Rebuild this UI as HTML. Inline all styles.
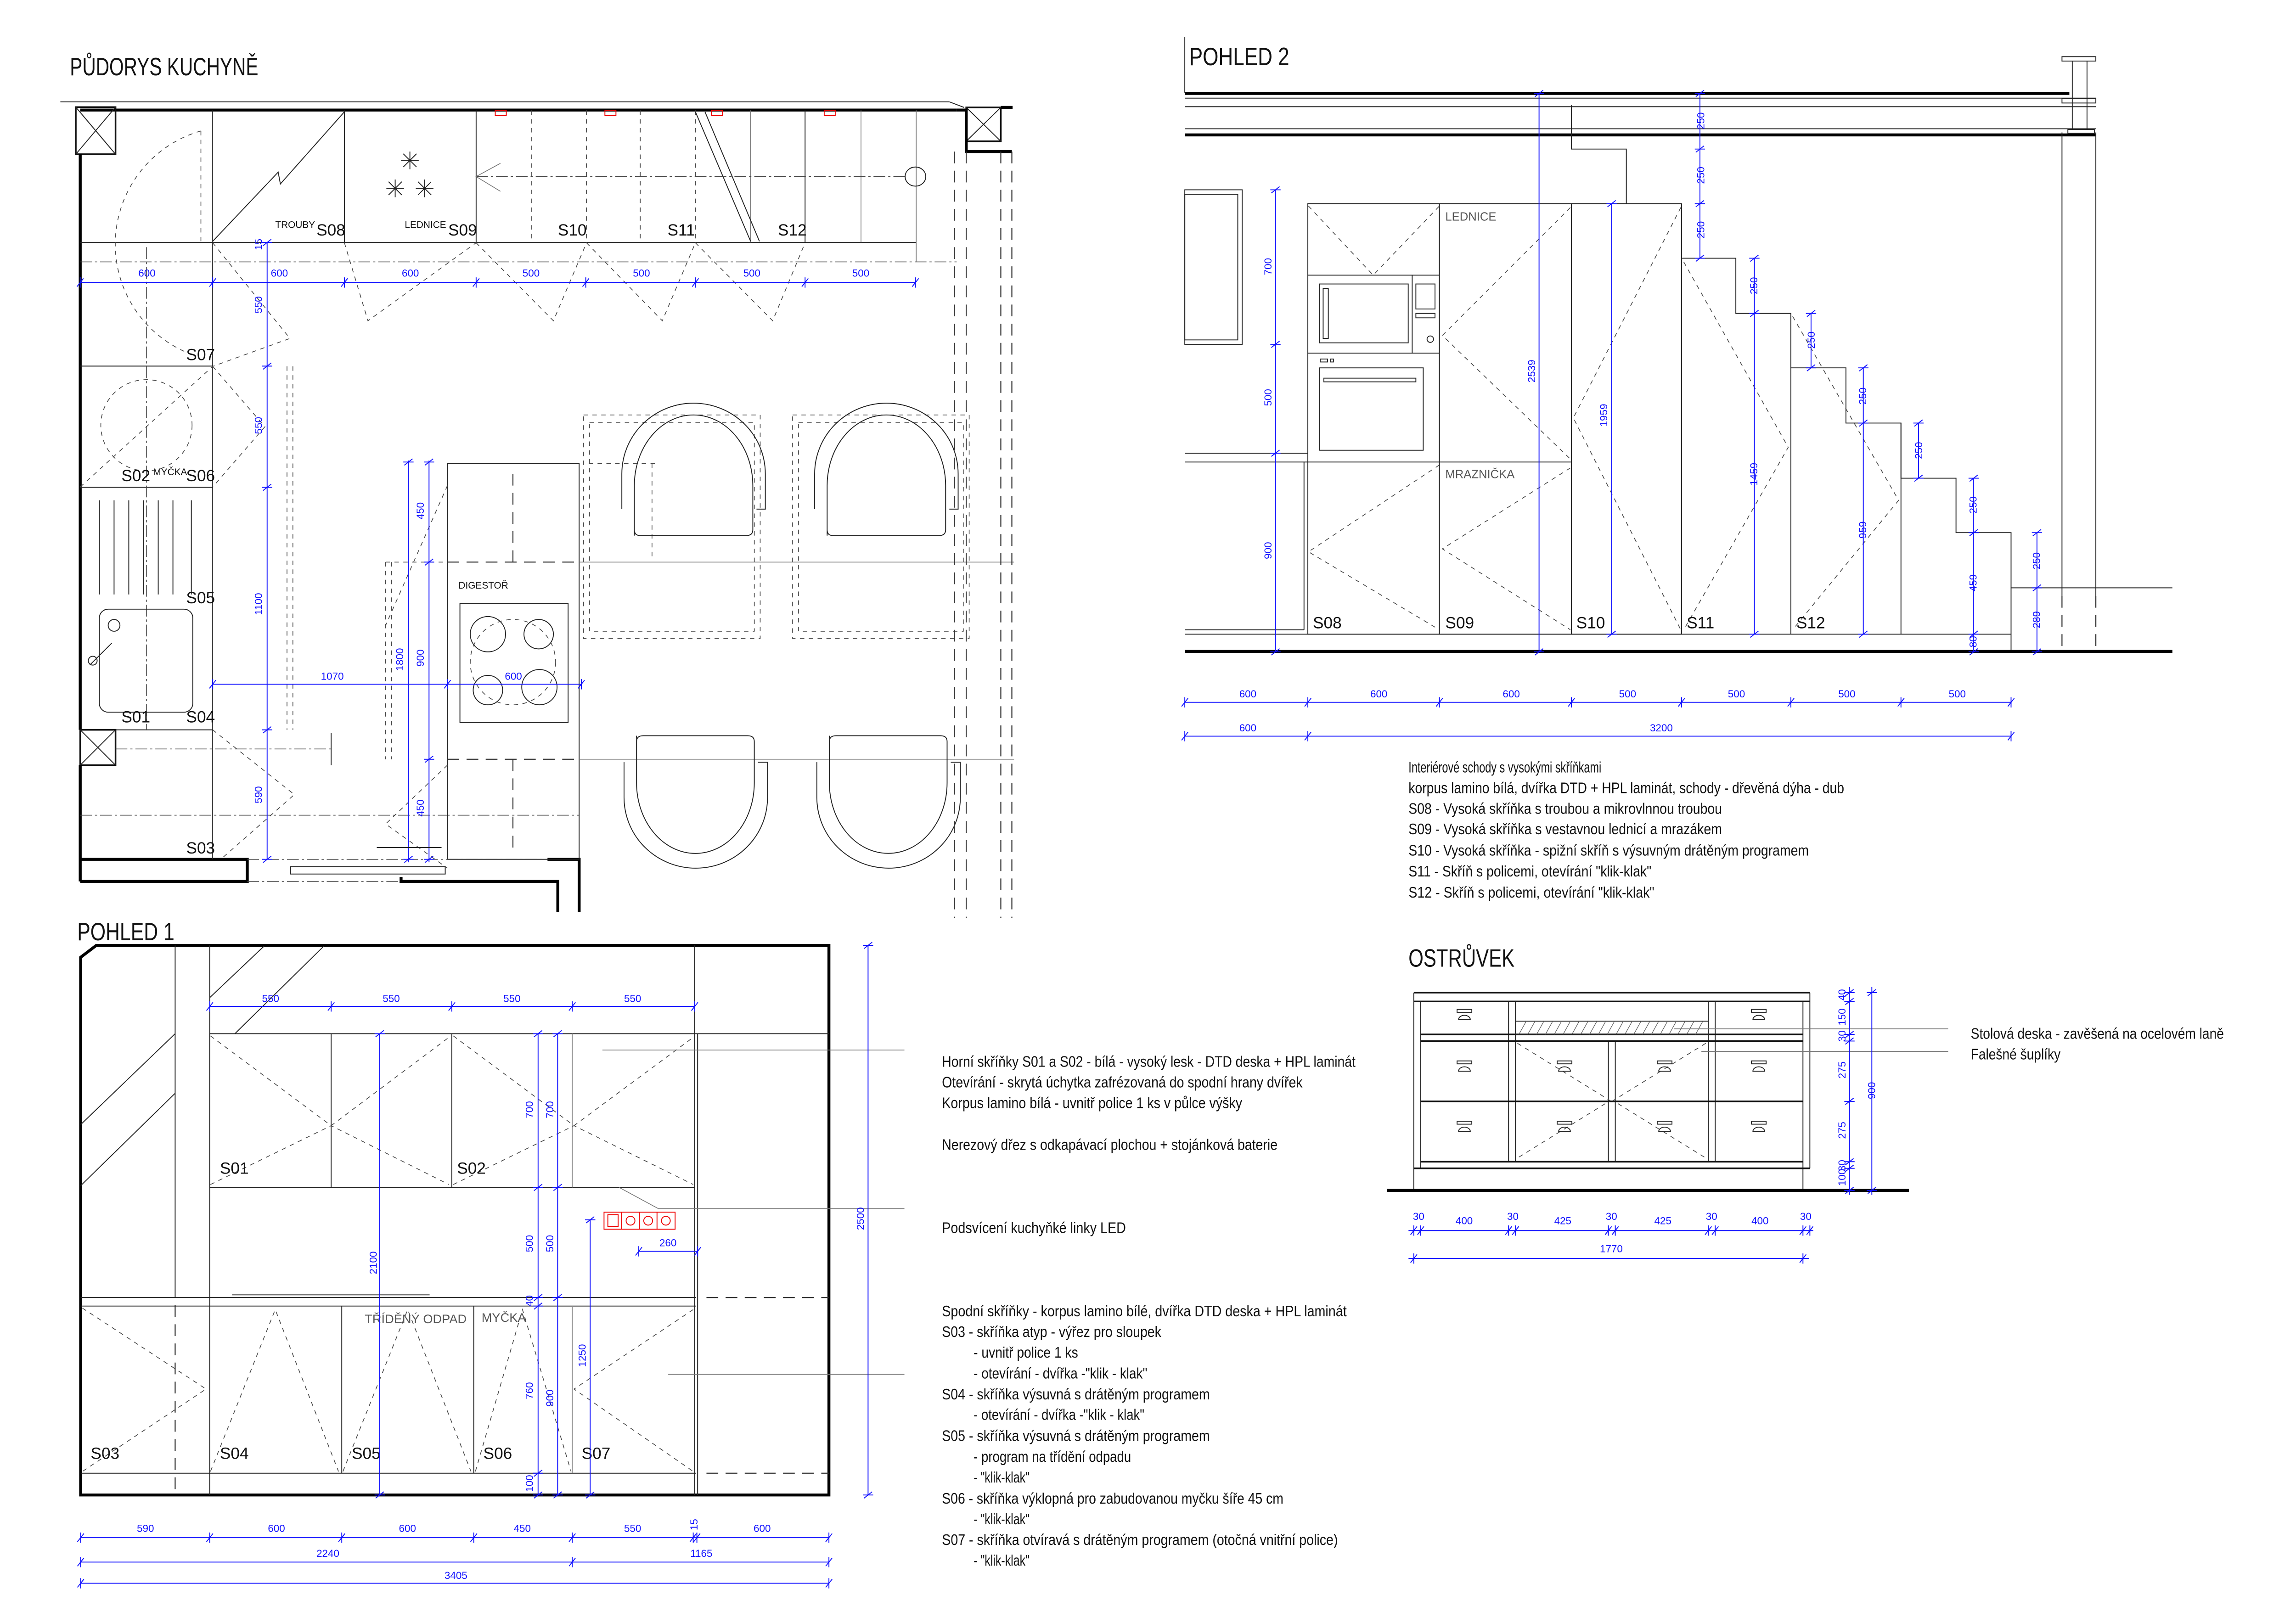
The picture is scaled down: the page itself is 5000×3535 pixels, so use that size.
<!DOCTYPE html>
<html><head><meta charset="utf-8"><style>
html,body{margin:0;padding:0;background:#fff}
svg{display:block}
text{font-family:"Liberation Sans Narrow","Liberation Sans",sans-serif;fill:#111}
.k{stroke:#222;stroke-width:.6;fill:none}
.k2{stroke:#111;stroke-width:1.1;fill:none}
.k3{stroke:#000;stroke-width:2;fill:none}
.g{stroke:#777;stroke-width:.5;fill:none}
.d{stroke:#444;stroke-width:.5;fill:none;stroke-dasharray:3 3}
.dd{stroke:#444;stroke-width:.5;fill:none;stroke-dasharray:8 2 1.5 2}
.dl{stroke:#333;stroke-width:.7;fill:none;stroke-dasharray:8 5}
.b{stroke:#1010ff;stroke-width:.6;fill:none}
.bt{fill:#1010ff;font-size:7px}
.s{font-size:11px}
.sm{font-size:6.5px}
.ti{font-size:17px}
.tx{font-size:10.5px}
.r{stroke:#e00;stroke-width:.6;fill:none}
</style></head><body>
<svg width="5000" height="3535" viewBox="0 0 1560 1103" preserveAspectRatio="none" xmlns="http://www.w3.org/2000/svg">
<defs>
<g id="h"><line x1="-2.2" y1="2.8" x2="2.2" y2="-2.8" stroke="#1010ff" stroke-width=".6"/><line x1="0" y1="-3.5" x2="0" y2="3.5" stroke="#1010ff" stroke-width=".6"/></g>
<g id="v"><line x1="-2.8" y1="2.2" x2="2.8" y2="-2.2" stroke="#1010ff" stroke-width=".6"/><line x1="-3.5" y1="0" x2="3.5" y2="0" stroke="#1010ff" stroke-width=".6"/></g>
<g id="X"><line x1="0" y1="0" x2="1" y2="1"/><line x1="1" y1="0" x2="0" y2="1"/></g>
</defs>

<!-- ================= PŮDORYS ================= -->
<text x="47.5" y="51.2" class="ti" textLength="128" lengthAdjust="spacingAndGlyphs">PŮDORYS KUCHYNĚ</text>
<line class="k" x1="41" y1="69.2" x2="645" y2="69.2"/>
<line class="k" x1="645" y1="69.2" x2="655" y2="73"/>
<line class="k3" x1="54.5" y1="74.8" x2="650" y2="74.8"/>
<rect class="k2" x="51.5" y="72.8" width="27" height="32"/>
<path class="k" d="M51.5 72.8 L78.5 104.8 M78.5 72.8 L51.5 104.8"/>
<rect class="k2" x="656.5" y="73" width="23.5" height="23"/>
<path class="k" d="M656.5 73 L680 96 M680 73 L656.5 96"/>
<path class="k3" d="M650 74.8 L656.5 74.8 L656.5 103 L687.5 103 M680 73 L688 73"/>
<line class="k3" x1="54.5" y1="104.8" x2="54.5" y2="496"/>
<rect class="k2" x="54.5" y="496" width="24" height="24"/>
<path class="k" d="M54.5 496 L78.5 520 M78.5 496 L54.5 520"/>
<line class="k3" x1="54.5" y1="520" x2="54.5" y2="599"/>
<path class="k3" d="M54.5 584 L168 584 L168 599 L54.5 599"/>
<path class="k3" d="M272.5 596 L272.5 599 L379 599 L379 620 M372 584 L393.5 584 L393.5 620"/>
<rect class="k" x="197.5" y="589" width="105" height="5"/>
<line class="dd" x1="168" y1="584" x2="372" y2="584"/>
<line class="dd" x1="168" y1="599" x2="272.5" y2="599"/>
<!-- cabinets top -->
<line class="k" x1="54.5" y1="164.8" x2="622.5" y2="164.8"/>
<line class="dd" x1="54.5" y1="178" x2="650" y2="178"/>
<line class="k" x1="144.5" y1="75" x2="144.5" y2="584"/>
<line class="k" x1="234" y1="75" x2="234" y2="164.8"/>
<line class="k" x1="323.5" y1="75" x2="323.5" y2="164.8"/>
<line class="d" x1="361" y1="75" x2="361" y2="164.8"/>
<line class="d" x1="398.5" y1="75" x2="398.5" y2="164.8"/>
<line class="d" x1="435" y1="75" x2="435" y2="164.8"/>
<line class="d" x1="472.5" y1="75" x2="472.5" y2="164.8"/>
<line class="g" x1="510" y1="75" x2="510" y2="164.8"/>
<line class="k" x1="547" y1="75" x2="547" y2="164.8"/>
<line class="g" x1="585" y1="75" x2="585" y2="164.8"/>
<line class="g" x1="622.5" y1="75" x2="622.5" y2="178"/>
<rect class="r" x="336.5" y="75" width="7.5" height="3.5"/>
<rect class="r" x="411" y="75" width="7.5" height="3.5"/>
<rect class="r" x="483.5" y="75" width="7.5" height="3.5"/>
<rect class="r" x="560" y="75" width="7.5" height="3.5"/>
<polyline class="k" points="144.5,164 189,117 190.5,125 234,76"/>
<line class="k" x1="472.5" y1="76" x2="510" y2="164"/>
<line class="k" x1="479" y1="76" x2="516" y2="164"/>
<line class="dd" x1="323.5" y1="120" x2="615" y2="120"/>
<path class="g" d="M340 111 L323.5 120 L340 130"/>
<ellipse class="k" cx="622" cy="120" rx="7" ry="6.5"/>
<g class="k">
<path d="M278.5 103v12M272.5 109h12M274 104.5l9 9M283 104.5l-9 9"/>
<path d="M268.5 122v12M262.5 128h12M264 123.5l9 9M273 123.5l-9 9"/>
<path d="M288.5 122v12M282.5 128h12M284 123.5l9 9M293 123.5l-9 9"/>
</g>
<text x="187" y="155" class="sm">TROUBY</text>
<text x="215" y="160" class="s">S08</text>
<text x="275" y="155" class="sm">LEDNICE</text>
<text x="304.5" y="160" class="s">S09</text>
<text x="379" y="160" class="s">S10</text>
<text x="453.5" y="160" class="s">S11</text>
<text x="528.5" y="160" class="s">S12</text>
<!-- dashed V's -->
<polyline class="d" points="234,165 250,218 323.5,165"/>
<polyline class="d" points="323.5,165 376,218 398.5,165"/>
<polyline class="d" points="398.5,165 450,218 472.5,165"/>
<polyline class="d" points="472.5,165 525,218 547,165"/>
<polyline class="d" points="144.5,165 197,230 144.5,249"/>
<polyline class="d" points="144.5,249 180,290 144.5,331"/>
<polyline class="d" points="144.5,496 200,540 150,584"/>
<!-- left column -->
<line class="k" x1="54.5" y1="248.8" x2="144.5" y2="248.8"/>
<line class="k" x1="54.5" y1="331.2" x2="144.5" y2="331.2"/>
<line class="k" x1="78.5" y1="496" x2="144.5" y2="496"/>
<line class="dd" x1="54.5" y1="554" x2="393.5" y2="554"/>
<line class="dd" x1="78.5" y1="509" x2="225" y2="509"/>
<line class="k" x1="225" y1="498" x2="225" y2="520"/>
<line class="dd" x1="99.5" y1="168" x2="99.5" y2="496"/>
<line class="d" x1="136.5" y1="89" x2="136.5" y2="165"/>
<path class="d" d="M136.5 89 A 80 80 0 0 0 128 240"/>
<circle class="d" cx="99.5" cy="289" r="31"/>
<line class="d" x1="54.5" y1="331" x2="144.5" y2="249"/>
<g class="k"><path d="M67.5 340v64M77.5 340v64M87.5 340v64M97.5 340v64M107.5 340v64M117.5 340v64M130 340v64"/></g>
<rect class="k" x="67.5" y="414" width="63.5" height="70" rx="6"/>
<circle class="k" cx="77.5" cy="425" r="4"/>
<circle class="k" cx="63" cy="449" r="3"/>
<line class="k" x1="61" y1="452" x2="76" y2="437"/>
<text x="126.5" y="244.8" class="s">S07</text>
<text x="82.5" y="327" class="s">S02</text>
<text x="104" y="323" class="sm">MYČKA</text>
<text x="126.5" y="327" class="s">S06</text>
<text x="126.5" y="410" class="s">S05</text>
<text x="82.5" y="491" class="s">S01</text>
<text x="126.5" y="491" class="s">S04</text>
<text x="126.5" y="580" class="s">S03</text>
<line class="d" x1="195" y1="249" x2="195" y2="496"/>
<line class="d" x1="199" y1="249" x2="199" y2="496"/>
<!-- plan dims -->
<line class="b" x1="54.5" y1="192" x2="622" y2="192"/>
<use href="#h" x="54.5" y="192"/><use href="#h" x="144.5" y="192"/><use href="#h" x="234" y="192"/><use href="#h" x="323.5" y="192"/><use href="#h" x="398" y="192"/><use href="#h" x="472.5" y="192"/><use href="#h" x="547" y="192"/><use href="#h" x="622" y="192"/>
<text class="bt" x="94" y="188">600</text><text class="bt" x="184" y="188">600</text><text class="bt" x="273" y="188">600</text><text class="bt" x="355" y="188">500</text><text class="bt" x="430" y="188">500</text><text class="bt" x="505" y="188">500</text><text class="bt" x="579" y="188">500</text>
<line class="b" x1="181.5" y1="164.8" x2="181.5" y2="584"/>
<use href="#v" x="181.5" y="164.8"/><use href="#v" x="181.5" y="248.8"/><use href="#v" x="181.5" y="331.2"/><use href="#v" x="181.5" y="496"/><use href="#v" x="181.5" y="584"/>
<text class="bt" transform="translate(178,213) rotate(-90)">550</text>
<text class="bt" transform="translate(178,295) rotate(-90)">550</text>
<text class="bt" transform="translate(178,418) rotate(-90)">1100</text>
<text class="bt" transform="translate(178,546) rotate(-90)">590</text>
<text class="bt" transform="translate(178,170) rotate(-90)">15</text>
<!-- island -->
<rect class="k" x="304" y="315" width="89.5" height="269"/>
<line class="dl" x1="348.5" y1="322" x2="348.5" y2="382"/>
<line class="dl" x1="348.5" y1="516" x2="348.5" y2="576"/>
<line class="dl" x1="304" y1="382" x2="393.5" y2="382"/>
<line class="dl" x1="304" y1="516" x2="393.5" y2="516"/>
<line class="g" x1="393.5" y1="382" x2="689" y2="382"/>
<line class="g" x1="393.5" y1="516" x2="689" y2="516"/>
<line class="d" x1="262" y1="382" x2="304" y2="382"/>
<line class="d" x1="262" y1="382" x2="262" y2="516"/>
<line class="d" x1="266" y1="382" x2="266" y2="516"/>
<polyline class="d" points="304,330 262,425"/>
<polyline class="d" points="304,520 262,560 304,590"/>
<text x="311.5" y="400" class="sm">DIGESTOŘ</text>
<rect class="k" x="312.5" y="410" width="73.5" height="81"/>
<circle class="k" cx="331.5" cy="431" r="12"/><circle class="k" cx="366" cy="431" r="10"/>
<circle class="k" cx="331.5" cy="469" r="10"/><circle class="k" cx="366.5" cy="467" r="12"/>
<circle class="d" cx="348.5" cy="450" r="29"/>
<line class="b" x1="277.5" y1="313" x2="277.5" y2="586"/>
<line class="b" x1="291.5" y1="313" x2="291.5" y2="586"/>
<use href="#v" x="277.5" y="314"/><use href="#v" x="277.5" y="584"/>
<use href="#v" x="291.5" y="314"/><use href="#v" x="291.5" y="382"/><use href="#v" x="291.5" y="516"/><use href="#v" x="291.5" y="584"/>
<text class="bt" transform="translate(274,456) rotate(-90)">1800</text>
<text class="bt" transform="translate(288,453) rotate(-90)">900</text>
<text class="bt" transform="translate(288,353) rotate(-90)">450</text>
<text class="bt" transform="translate(288,555) rotate(-90)">450</text>
<line class="b" x1="144.5" y1="465" x2="395" y2="465"/>
<use href="#h" x="144.5" y="465"/><use href="#h" x="304" y="465"/><use href="#h" x="395" y="465"/>
<text class="bt" x="218" y="462">1070</text><text class="bt" x="343" y="462">600</text>
<line class="k" x1="256" y1="576" x2="300" y2="576"/>
<!-- tables -->
<rect class="d" x="396.5" y="282" width="120" height="152"/>
<rect class="d" x="400.5" y="287" width="112" height="142"/>
<rect class="d" x="538.5" y="282" width="120" height="152"/>
<rect class="d" x="542.5" y="287" width="112" height="142"/>
<line class="d" x1="400" y1="315" x2="445" y2="315"/><line class="d" x1="443" y1="315" x2="443" y2="380"/>
<!-- chairs -->
<g class="k">
<path d="M422.5 346 L422.5 322 A48.75 48 0 0 1 520 322 L520 346 L514 346"/>
<path d="M431 364 L431 330 A40.25 48 0 0 1 511.5 330 L511.5 360 Q511.5 364 507 364 L435 364 Q431 364 431 360"/>
<path d="M553.5 346 L553.5 322 A48.75 48 0 0 1 651 322 L651 346 L645 346"/>
<path d="M562 364 L562 330 A40.25 48 0 0 1 642.5 330 L642.5 360 Q642.5 364 638 364 L566 364 Q562 364 562 360"/>
<path d="M424 518 L424 542 A48.75 48 0 0 0 521.5 542 L521.5 518 L515 518"/>
<path d="M432.5 500 L432.5 532 A40 48 0 0 0 512.5 532 L512.5 504 Q512.5 500 508 500 L437 500 Q432.5 500 432.5 504"/>
<path d="M555 518 L555 542 A48.75 48 0 0 0 652.5 542 L652.5 518 L646 518"/>
<path d="M563.5 500 L563.5 532 A40 48 0 0 0 643.5 532 L643.5 504 Q643.5 500 639 500 L568 500 Q563.5 500 563.5 504"/>
</g>
<g class="dl"><line x1="648.5" y1="103" x2="648.5" y2="624"/><line x1="656.5" y1="103" x2="656.5" y2="624"/><line x1="680" y1="103" x2="680" y2="624"/><line x1="687.5" y1="103" x2="687.5" y2="624"/></g>

<!-- ================= POHLED 2 ================= -->
<line class="k" x1="805" y1="25" x2="805" y2="63"/>
<text x="808" y="44.3" class="ti" textLength="68" lengthAdjust="spacingAndGlyphs">POHLED 2</text>
<line class="k3" x1="805" y1="63.5" x2="1406" y2="63.5"/>
<line class="k" x1="805" y1="66.7" x2="1424" y2="66.7"/>
<line class="k" x1="805" y1="72.5" x2="1424" y2="72.5"/>
<line class="k" x1="805" y1="87.5" x2="1424" y2="87.5"/>
<line class="k3" x1="805" y1="91.7" x2="1424" y2="91.7"/>
<g class="k"><rect x="1401" y="38.5" width="23" height="3"/><rect x="1401" y="67" width="23" height="3"/><rect x="1405" y="88" width="18" height="2.5"/><line x1="1408" y1="41.5" x2="1408" y2="88"/><line x1="1418" y1="41.5" x2="1418" y2="88"/></g>
<line class="k" x1="1401" y1="90" x2="1401" y2="405"/>
<line class="k" x1="1424" y1="90" x2="1424" y2="405"/>
<line class="dl" x1="1401" y1="405" x2="1401" y2="443"/>
<line class="dl" x1="1424" y1="405" x2="1424" y2="443"/>
<rect class="k" x="805" y="129" width="39" height="105"/>
<rect class="k" x="805" y="132" width="36" height="99"/>
<!-- S08 -->
<rect class="k" x="888.6" y="138.4" width="89.4" height="292.6"/>
<line class="k" x1="888.6" y1="187" x2="978" y2="187"/>
<line class="k" x1="888.6" y1="240" x2="978" y2="240"/>
<line class="k" x1="888.6" y1="314" x2="978" y2="314"/>
<rect class="k" x="896.5" y="193" width="60.3" height="40"/>
<rect class="k" x="899" y="196" width="3.5" height="34"/>
<line class="k" x1="959.5" y1="187" x2="959.5" y2="240"/>
<rect class="k" x="962" y="193" width="13" height="17"/>
<rect class="k" x="962" y="213" width="13" height="3"/>
<circle class="k" cx="971.8" cy="230.5" r="2.2"/>
<rect class="k" x="896.5" y="250" width="70.5" height="56"/>
<rect class="k" x="899.5" y="257" width="62.5" height="2.5"/>
<rect class="k" x="897" y="244" width="5" height="2"/><rect class="k" x="904" y="244" width="2" height="2"/>
<polyline class="d" points="889,140 933,187 978,140"/>
<polyline class="d" points="978,316 889,375 978,428"/>
<!-- S09 -->
<rect class="k" x="978" y="138.4" width="89.7" height="292.6"/>
<line class="k" x1="978" y1="314" x2="1067.7" y2="314"/>
<polyline class="d" points="1067,141 980,228 1067,312"/>
<polyline class="d" points="1067,318 980,373 1067,428"/>
<text x="982" y="150" class="sm" style="font-size:8px;fill:#555">LEDNICE</text>
<text x="982" y="325" class="sm" style="font-size:8px;fill:#555">MRAZNIČKA</text>
<!-- S10 -->
<rect class="k" x="1067.7" y="138.4" width="74.8" height="292.6"/>
<path class="k" d="M1067.7 71.5 L1067.7 101.3 L1105 101.3 L1105 138.4"/>
<polyline class="d" points="1142,141 1069,284 1142,428"/>
<!-- stairs -->
<path class="k" d="M1142.5 138.4 L1142.5 175.5 L1179.4 175.5 L1179.4 213 L1216.8 213 L1216.8 250 L1254.2 250 L1254.2 287.5 L1291.6 287.5 L1291.6 325 L1329 325 L1329 362 L1366.4 362 L1366.4 443"/>
<line class="k" x1="1142.5" y1="175" x2="1142.5" y2="431"/>
<line class="k" x1="1216.8" y1="213" x2="1216.8" y2="431"/>
<line class="k" x1="1291.6" y1="287.5" x2="1291.6" y2="431"/>
<line class="k" x1="1366.4" y1="399.5" x2="1476" y2="399.5"/>
<polyline class="d" points="1144,178 1215,304 1144,428"/>
<polyline class="d" points="1218,215 1290,340 1218,428"/>
<line class="k" x1="805" y1="431" x2="1366.4" y2="431"/>
<line class="k" x1="805" y1="308" x2="888.6" y2="308"/>
<line class="k" x1="805" y1="314" x2="888.6" y2="314"/>
<line class="k" x1="886" y1="314" x2="886" y2="428"/>
<line class="k" x1="805" y1="428" x2="886" y2="428"/>
<line class="k3" x1="805" y1="442.7" x2="1476" y2="442.7"/>
<text x="892" y="427" class="s">S08</text>
<text x="982" y="427" class="s">S09</text>
<text x="1071" y="427" class="s">S10</text>
<text x="1146" y="427" class="s">S11</text>
<text x="1220.5" y="427" class="s">S12</text>
<!-- P2 dims -->
<line class="b" x1="866.6" y1="129" x2="866.6" y2="443"/>
<use href="#v" x="866.6" y="129"/><use href="#v" x="866.6" y="234"/><use href="#v" x="866.6" y="308"/><use href="#v" x="866.6" y="443"/>
<text class="bt" transform="translate(864,187) rotate(-90)">700</text>
<text class="bt" transform="translate(864,276) rotate(-90)">500</text>
<text class="bt" transform="translate(864,380) rotate(-90)">900</text>
<line class="b" x1="1045.7" y1="63.5" x2="1045.7" y2="443"/>
<use href="#v" x="1045.7" y="63.5"/><use href="#v" x="1045.7" y="443"/>
<text class="bt" transform="translate(1043,260) rotate(-90)">2539</text>
<line class="b" x1="1095" y1="138.4" x2="1095" y2="431"/>
<use href="#v" x="1095" y="138.4"/><use href="#v" x="1095" y="431"/>
<text class="bt" transform="translate(1092,290) rotate(-90)">1959</text>
<line class="b" x1="1155" y1="63.5" x2="1155" y2="175.5"/>
<use href="#v" x="1155" y="63.5"/><use href="#v" x="1155" y="101.3"/><use href="#v" x="1155" y="138.4"/><use href="#v" x="1155" y="175.5"/>
<text class="bt" transform="translate(1158,88) rotate(-90)">250</text>
<text class="bt" transform="translate(1158,125) rotate(-90)">250</text>
<text class="bt" transform="translate(1158,162) rotate(-90)">250</text>
<line class="b" x1="1192" y1="175.5" x2="1192" y2="431"/>
<use href="#v" x="1192" y="175.5"/><use href="#v" x="1192" y="213"/><use href="#v" x="1192" y="431"/>
<text class="bt" transform="translate(1194,200) rotate(-90)">250</text>
<text class="bt" transform="translate(1194,330) rotate(-90)">1459</text>
<line class="b" x1="1230.5" y1="213" x2="1230.5" y2="250"/>
<use href="#v" x="1230.5" y="213"/><use href="#v" x="1230.5" y="250"/>
<text class="bt" transform="translate(1233,237) rotate(-90)">250</text>
<line class="b" x1="1266" y1="250" x2="1266" y2="431"/>
<use href="#v" x="1266" y="250"/><use href="#v" x="1266" y="287.5"/><use href="#v" x="1266" y="431"/>
<text class="bt" transform="translate(1268,275) rotate(-90)">250</text>
<text class="bt" transform="translate(1268,366) rotate(-90)">959</text>
<line class="b" x1="1303.5" y1="287.5" x2="1303.5" y2="325"/>
<use href="#v" x="1303.5" y="287.5"/><use href="#v" x="1303.5" y="325"/>
<text class="bt" transform="translate(1306,312) rotate(-90)">250</text>
<line class="b" x1="1341" y1="325" x2="1341" y2="443"/>
<use href="#v" x="1341" y="325"/><use href="#v" x="1341" y="362"/><use href="#v" x="1341" y="431"/><use href="#v" x="1341" y="443"/>
<text class="bt" transform="translate(1343,349) rotate(-90)">250</text>
<text class="bt" transform="translate(1343,402) rotate(-90)">459</text>
<text class="bt" transform="translate(1343,440) rotate(-90)">80</text>
<line class="b" x1="1384" y1="362" x2="1384" y2="443"/>
<use href="#v" x="1384" y="362"/><use href="#v" x="1384" y="399.5"/><use href="#v" x="1384" y="443"/>
<text class="bt" transform="translate(1386,387) rotate(-90)">250</text>
<text class="bt" transform="translate(1386,427) rotate(-90)">289</text>
<line class="b" x1="805" y1="477.3" x2="1366.4" y2="477.3"/>
<use href="#h" x="805" y="477.3"/><use href="#h" x="888.6" y="477.3"/><use href="#h" x="978" y="477.3"/><use href="#h" x="1067.7" y="477.3"/><use href="#h" x="1142.5" y="477.3"/><use href="#h" x="1216.8" y="477.3"/><use href="#h" x="1291.6" y="477.3"/><use href="#h" x="1366.4" y="477.3"/>
<text class="bt" x="842" y="474">600</text><text class="bt" x="931" y="474">600</text><text class="bt" x="1021" y="474">600</text><text class="bt" x="1100" y="474">500</text><text class="bt" x="1174" y="474">500</text><text class="bt" x="1249" y="474">500</text><text class="bt" x="1324" y="474">500</text>
<line class="b" x1="805" y1="500.3" x2="1366.4" y2="500.3"/>
<use href="#h" x="805" y="500.3"/><use href="#h" x="888.6" y="500.3"/><use href="#h" x="1366.4" y="500.3"/>
<text class="bt" x="842" y="497">600</text><text class="bt" x="1121" y="497">3200</text>
<g class="tx">
<text x="957" y="525" textLength="131" lengthAdjust="spacingAndGlyphs">Interiérové schody s vysokými skříňkami</text>
<text x="957" y="539" textLength="296" lengthAdjust="spacingAndGlyphs">korpus lamino bílá, dvířka DTD + HPL laminát, schody - dřevěná dýha - dub</text>
<text x="957" y="553" textLength="213" lengthAdjust="spacingAndGlyphs">S08 - Vysoká skříňka s troubou a mikrovlnnou troubou</text>
<text x="957" y="567" textLength="213" lengthAdjust="spacingAndGlyphs">S09 - Vysoká skříňka s vestavnou lednicí a mrazákem</text>
<text x="957" y="581.5" textLength="272" lengthAdjust="spacingAndGlyphs">S10 - Vysoká skříňka - spižní skříň s výsuvným drátěným programem</text>
<text x="957" y="595.7" textLength="165" lengthAdjust="spacingAndGlyphs">S11 - Skříň s policemi, otevírání "klik-klak"</text>
<text x="957" y="610" textLength="167" lengthAdjust="spacingAndGlyphs">S12 - Skříň s policemi, otevírání "klik-klak"</text>
</g>

<!-- ================= POHLED 1 ================= -->
<text x="52.5" y="639" class="ti" textLength="66" lengthAdjust="spacingAndGlyphs">POHLED 1</text>
<path class="k3" d="M54.8 650.6 L65.4 642.5 L563.2 642.5 L563.2 1016 L54.8 1016 Z"/>
<line class="k" x1="119" y1="642.5" x2="119" y2="881.8"/>
<line class="dl" x1="119" y1="887" x2="119" y2="1016"/>
<line class="k" x1="142.5" y1="642.5" x2="142.5" y2="1016"/>
<g class="k"><line x1="142.5" y1="678" x2="179.4" y2="643"/><line x1="159.6" y1="702.5" x2="220" y2="643"/><line x1="54.8" y1="764.3" x2="119" y2="702.5"/><line x1="54.8" y1="805.8" x2="119" y2="743"/></g>
<rect class="k" x="142.5" y="702.5" width="329.5" height="104.5"/>
<g class="k"><line x1="225" y1="702.5" x2="225" y2="807"/><line x1="307" y1="702.5" x2="307" y2="807"/><line x1="388.8" y1="702.5" x2="388.8" y2="807" stroke="#888"/></g>
<line class="k" x1="472" y1="642.5" x2="472" y2="1016"/>
<line class="k" x1="474" y1="702.5" x2="474" y2="1016" stroke="#999"/>
<line class="k" x1="472" y1="702.5" x2="563.2" y2="702.5"/>
<polyline class="d" points="143,704 225,765 305,705"/>
<polyline class="d" points="143,805 225,765 305,805"/>
<polyline class="d" points="308,704 390,765 471,705"/>
<polyline class="d" points="308,805 390,765 471,805"/>
<text x="149.4" y="797.7" class="s">S01</text>
<text x="310.5" y="797.7" class="s">S02</text>
<line class="k" x1="54.8" y1="881.8" x2="473" y2="881.8"/>
<line class="k" x1="54.8" y1="887.6" x2="473" y2="887.6"/>
<line class="k" x1="157.7" y1="880" x2="291.9" y2="880"/>
<line class="k" x1="54.8" y1="1001.2" x2="473" y2="1001.2"/>
<g class="k"><line x1="232.2" y1="887.6" x2="232.2" y2="1001.2"/><line x1="321.9" y1="887.6" x2="321.9" y2="1001.2"/><line x1="388.8" y1="887.6" x2="388.8" y2="1001.2" stroke="#888"/></g>
<line class="dl" x1="480" y1="881.8" x2="563" y2="881.8"/>
<line class="dl" x1="480" y1="1001.2" x2="563" y2="1001.2"/>
<polyline class="d" points="56,889 140,944 56,1000"/>
<polyline class="d" points="143,1000 187,890 230,1000"/>
<polyline class="d" points="233,1000 277,890 320,1000"/>
<polyline class="d" points="323,1000 355,890 388,1000"/>
<polyline class="d" points="471,890 390,944 471,1000"/>
<text x="247.8" y="899.2" style="font-size:8.5px;fill:#555">TŘÍDĚNÝ ODPAD</text>
<text x="327.2" y="898.3" style="font-size:8.5px;fill:#555">MYČKA</text>
<text x="61.6" y="991.4" class="s">S03</text>
<text x="149.4" y="991.4" class="s">S04</text>
<text x="239" y="991.4" class="s">S05</text>
<text x="328.4" y="991.4" class="s">S06</text>
<text x="395.2" y="991.4" class="s">S07</text>
<line class="g" x1="409.3" y1="713.6" x2="614.5" y2="713.6"/>
<path class="g" d="M420.7 807 L447.3 821.4 L614.5 821.4"/>
<line class="g" x1="454" y1="934" x2="614.5" y2="934"/>
<g class="r"><rect x="410.4" y="823.8" width="48.3" height="11.6"/><line x1="422.4" y1="823.8" x2="422.4" y2="835.4"/><line x1="434.4" y1="823.8" x2="434.4" y2="835.4"/><line x1="446.4" y1="823.8" x2="446.4" y2="835.4"/><rect x="413" y="825.5" width="7" height="8"/><circle cx="428.4" cy="829.6" r="3"/><circle cx="440.4" cy="829.6" r="3"/><circle cx="452.4" cy="829.6" r="3"/></g>
<!-- P1 dims -->
<line class="b" x1="142.5" y1="684" x2="472" y2="684"/>
<use href="#h" x="142.5" y="684"/><use href="#h" x="225" y="684"/><use href="#h" x="307" y="684"/><use href="#h" x="388.8" y="684"/><use href="#h" x="472" y="684"/>
<text class="bt" x="178" y="681">550</text><text class="bt" x="260" y="681">550</text><text class="bt" x="342" y="681">550</text><text class="bt" x="424" y="681">550</text>
<line class="b" x1="258" y1="702.5" x2="258" y2="1016"/>
<use href="#v" x="258" y="702.5"/><use href="#v" x="258" y="1016"/>
<text class="bt" transform="translate(256,866) rotate(-90)">2100</text>
<line class="b" x1="365.6" y1="702.5" x2="365.6" y2="1016"/>
<use href="#v" x="365.6" y="702.5"/><use href="#v" x="365.6" y="807"/><use href="#v" x="365.6" y="881.8"/><use href="#v" x="365.6" y="887.6"/><use href="#v" x="365.6" y="1001.2"/><use href="#v" x="365.6" y="1016"/>
<text class="bt" transform="translate(362,760) rotate(-90)">700</text>
<text class="bt" transform="translate(362,851) rotate(-90)">500</text>
<text class="bt" transform="translate(362,888) rotate(-90)">40</text>
<text class="bt" transform="translate(362,951) rotate(-90)">760</text>
<text class="bt" transform="translate(362,1014) rotate(-90)">100</text>
<line class="b" x1="378.9" y1="702.5" x2="378.9" y2="1016"/>
<use href="#v" x="378.9" y="702.5"/><use href="#v" x="378.9" y="807"/><use href="#v" x="378.9" y="881.8"/><use href="#v" x="378.9" y="1016"/>
<text class="bt" transform="translate(376,760) rotate(-90)">700</text>
<text class="bt" transform="translate(376,851) rotate(-90)">500</text>
<text class="bt" transform="translate(376,956) rotate(-90)">900</text>
<line class="b" x1="401" y1="829" x2="401" y2="1016"/>
<use href="#v" x="401" y="829"/><use href="#v" x="401" y="1016"/>
<text class="bt" transform="translate(398,929) rotate(-90)">1250</text>
<line class="b" x1="434" y1="850.4" x2="474" y2="850.4"/>
<use href="#h" x="434" y="850.4"/><use href="#h" x="474" y="850.4"/>
<text class="bt" x="448" y="847">260</text>
<line class="b" x1="589.8" y1="642.5" x2="589.8" y2="1016"/>
<use href="#v" x="589.8" y="642.5"/><use href="#v" x="589.8" y="1016"/>
<text class="bt" transform="translate(587,836) rotate(-90)">2500</text>
<line class="b" x1="54.8" y1="1045" x2="563.2" y2="1045"/>
<use href="#h" x="54.8" y="1045"/><use href="#h" x="142.5" y="1045"/><use href="#h" x="232.2" y="1045"/><use href="#h" x="321.9" y="1045"/><use href="#h" x="388.8" y="1045"/><use href="#h" x="471" y="1045"/><use href="#h" x="473.5" y="1045"/><use href="#h" x="563.2" y="1045"/>
<text class="bt" x="93" y="1041">590</text><text class="bt" x="182" y="1041">600</text><text class="bt" x="271" y="1041">600</text><text class="bt" x="349" y="1041">450</text><text class="bt" x="424" y="1041">550</text><text class="bt" transform="translate(474,1040) rotate(-90)">15</text><text class="bt" x="512" y="1041">600</text>
<line class="b" x1="54.8" y1="1061.6" x2="563.2" y2="1061.6"/>
<use href="#h" x="54.8" y="1061.6"/><use href="#h" x="388.8" y="1061.6"/><use href="#h" x="563.2" y="1061.6"/>
<text class="bt" x="215" y="1058">2240</text><text class="bt" x="469" y="1058">1165</text>
<line class="b" x1="54.8" y1="1076" x2="563.2" y2="1076"/>
<use href="#h" x="54.8" y="1076"/><use href="#h" x="563.2" y="1076"/>
<text class="bt" x="302" y="1073">3405</text>
<g class="tx">
<text x="640" y="725" textLength="281" lengthAdjust="spacingAndGlyphs">Horní skříňky S01 a S02 - bílá - vysoký lesk - DTD deska + HPL laminát</text>
<text x="640" y="739" textLength="245" lengthAdjust="spacingAndGlyphs">Otevírání - skrytá úchytka zafrézovaná do spodní hrany dvířek</text>
<text x="640" y="753" textLength="204" lengthAdjust="spacingAndGlyphs">Korpus lamino bílá - uvnitř police 1 ks v půlce výšky</text>
<text x="640" y="781.5" textLength="228" lengthAdjust="spacingAndGlyphs">Nerezový dřez s odkapávací plochou + stojánková baterie</text>
<text x="640" y="838" textLength="125" lengthAdjust="spacingAndGlyphs">Podsvícení kuchyňké linky LED</text>
<text x="640" y="894.5" textLength="275" lengthAdjust="spacingAndGlyphs">Spodní skříňky - korpus lamino bílé, dvířka DTD deska + HPL laminát</text>
<text x="640" y="908.6" textLength="149" lengthAdjust="spacingAndGlyphs">S03 - skříňka atyp - výřez pro sloupek</text>
<text x="661.5" y="922.7" textLength="71" lengthAdjust="spacingAndGlyphs">- uvnitř police 1 ks</text>
<text x="661.5" y="936.9" textLength="118" lengthAdjust="spacingAndGlyphs">- otevírání - dvířka -"klik - klak"</text>
<text x="640" y="951" textLength="182" lengthAdjust="spacingAndGlyphs">S04 - skříňka výsuvná s drátěným programem</text>
<text x="661.5" y="965" textLength="116" lengthAdjust="spacingAndGlyphs">- otevírání - dvířka -"klik - klak"</text>
<text x="640" y="979.3" textLength="182" lengthAdjust="spacingAndGlyphs">S05 - skříňka výsuvná s drátěným programem</text>
<text x="661.5" y="993.5" textLength="107" lengthAdjust="spacingAndGlyphs">- program na třídění odpadu</text>
<text x="661.5" y="1007.6" textLength="38" lengthAdjust="spacingAndGlyphs">- "klik-klak"</text>
<text x="640" y="1021.8" textLength="232" lengthAdjust="spacingAndGlyphs">S06 - skříňka výklopná pro zabudovanou myčku šíře 45 cm</text>
<text x="661.5" y="1035.9" textLength="38" lengthAdjust="spacingAndGlyphs">- "klik-klak"</text>
<text x="640" y="1050" textLength="269" lengthAdjust="spacingAndGlyphs">S07 - skříňka otvíravá s drátěným programem (otočná vnitřní police)</text>
<text x="661.5" y="1064" textLength="38" lengthAdjust="spacingAndGlyphs">- "klik-klak"</text>
</g>

<!-- ================= OSTRŮVEK ================= -->
<text x="957" y="657" class="ti" textLength="72" lengthAdjust="spacingAndGlyphs">OSTRŮVEK</text>
<line class="k2" x1="960.6" y1="674.6" x2="1229.7" y2="674.6"/>
<line class="k2" x1="960.6" y1="680.6" x2="1229.7" y2="680.6"/>
<g class="k">
<line x1="960.6" y1="674.6" x2="960.6" y2="809"/><line x1="965.3" y1="680.6" x2="965.3" y2="794"/>
<line x1="1025" y1="680.6" x2="1025" y2="789.5"/><line x1="1029.7" y1="680.6" x2="1029.7" y2="789.5"/>
<line x1="1160.7" y1="680.6" x2="1160.7" y2="789.5"/><line x1="1165.4" y1="680.6" x2="1165.4" y2="789.5"/>
<line x1="1225" y1="680.6" x2="1225" y2="809"/><line x1="1229.7" y1="674.6" x2="1229.7" y2="794"/>
<line x1="1092.8" y1="707.5" x2="1092.8" y2="789.5"/><line x1="1097.5" y1="707.5" x2="1097.5" y2="789.5"/>
</g>
<g class="k2">
<line x1="965.3" y1="703" x2="1225" y2="703"/><line x1="965.3" y1="707.5" x2="1225" y2="707.5"/>
<line x1="965.3" y1="748.5" x2="1225" y2="748.5"/><line x1="965.3" y1="789.5" x2="1225" y2="789.5"/>
<line x1="960.6" y1="794" x2="1229.7" y2="794"/>
</g>
<rect class="k" x="1029.7" y="694" width="131" height="9"/>
<g stroke="#555" stroke-width=".4">
<path d="M1032 703l5-9M1038 703l5-9M1044 703l5-9M1050 703l5-9M1056 703l5-9M1062 703l5-9M1068 703l5-9M1074 703l5-9M1080 703l5-9M1086 703l5-9M1092 703l5-9M1098 703l5-9M1104 703l5-9M1110 703l5-9M1116 703l5-9M1122 703l5-9M1128 703l5-9M1134 703l5-9M1140 703l5-9M1146 703l5-9M1152 703l5-9"/>
</g>
<line class="k3" x1="942.3" y1="809" x2="1297" y2="809"/>
<polyline class="d" points="1031,709 1094,748 1031,787"/>
<polyline class="d" points="1159,709 1096,748 1159,787"/>
<g class="k">
<path d="M990 686h10v2h-10zM991 693a4 3 0 0 1 8 0z"/>
<path d="M1190 686h10v2h-10zM1191 693a4 3 0 0 1 8 0z"/>
<path d="M990 721h10v2h-10zM991 728a4 3 0 0 1 8 0z"/>
<path d="M1058 721h10v2h-10zM1059 728a4 3 0 0 1 8 0z"/>
<path d="M1126 721h10v2h-10zM1127 728a4 3 0 0 1 8 0z"/>
<path d="M1190 721h10v2h-10zM1191 728a4 3 0 0 1 8 0z"/>
<path d="M990 762h10v2h-10zM991 769a4 3 0 0 1 8 0z"/>
<path d="M1058 762h10v2h-10zM1059 769a4 3 0 0 1 8 0z"/>
<path d="M1126 762h10v2h-10zM1127 769a4 3 0 0 1 8 0z"/>
<path d="M1190 762h10v2h-10zM1191 769a4 3 0 0 1 8 0z"/>
</g>
<line class="g" x1="1137.3" y1="699.2" x2="1323.7" y2="699.2"/>
<line class="g" x1="1156" y1="714.6" x2="1323.7" y2="714.6"/>
<text x="1339" y="706" class="tx" textLength="172" lengthAdjust="spacingAndGlyphs">Stolová deska - zavěšená na ocelovém laně</text>
<text x="1339" y="720" class="tx" textLength="61" lengthAdjust="spacingAndGlyphs">Falešné šuplíky</text>
<line class="b" x1="1256.6" y1="670.8" x2="1256.6" y2="812"/>
<use href="#v" x="1256.6" y="674.6"/><use href="#v" x="1256.6" y="680.6"/><use href="#v" x="1256.6" y="703"/><use href="#v" x="1256.6" y="707.5"/><use href="#v" x="1256.6" y="748.5"/><use href="#v" x="1256.6" y="789.5"/><use href="#v" x="1256.6" y="794"/><use href="#v" x="1256.6" y="809"/>
<text class="bt" transform="translate(1254,680) rotate(-90)">40</text>
<text class="bt" transform="translate(1254,697) rotate(-90)">150</text>
<text class="bt" transform="translate(1254,708) rotate(-90)">30</text>
<text class="bt" transform="translate(1254,733) rotate(-90)">275</text>
<text class="bt" transform="translate(1254,774) rotate(-90)">275</text>
<text class="bt" transform="translate(1254,796) rotate(-90)">30</text>
<text class="bt" transform="translate(1254,806) rotate(-90)">100</text>
<line class="b" x1="1271.8" y1="670.8" x2="1271.8" y2="812"/>
<use href="#v" x="1271.8" y="674.6"/><use href="#v" x="1271.8" y="809"/>
<text class="bt" transform="translate(1274,747) rotate(-90)">900</text>
<line class="b" x1="957" y1="836.3" x2="1232" y2="836.3"/>
<use href="#h" x="960.6" y="836.3"/><use href="#h" x="965.3" y="836.3"/><use href="#h" x="1025" y="836.3"/><use href="#h" x="1029.7" y="836.3"/><use href="#h" x="1092.8" y="836.3"/><use href="#h" x="1097.5" y="836.3"/><use href="#h" x="1160.7" y="836.3"/><use href="#h" x="1165.4" y="836.3"/><use href="#h" x="1225" y="836.3"/><use href="#h" x="1229.7" y="836.3"/>
<text class="bt" x="960" y="829">30</text><text class="bt" x="989" y="832">400</text><text class="bt" x="1024" y="829">30</text><text class="bt" x="1056" y="832">425</text><text class="bt" x="1091" y="829">30</text><text class="bt" x="1124" y="832">425</text><text class="bt" x="1159" y="829">30</text><text class="bt" x="1190" y="832">400</text><text class="bt" x="1223" y="829">30</text>
<line class="b" x1="957" y1="855.3" x2="1229" y2="855.3"/>
<use href="#h" x="960.6" y="855.3"/><use href="#h" x="1225" y="855.3"/>
<text class="bt" x="1087" y="851">1770</text>
</svg>
</body></html>
